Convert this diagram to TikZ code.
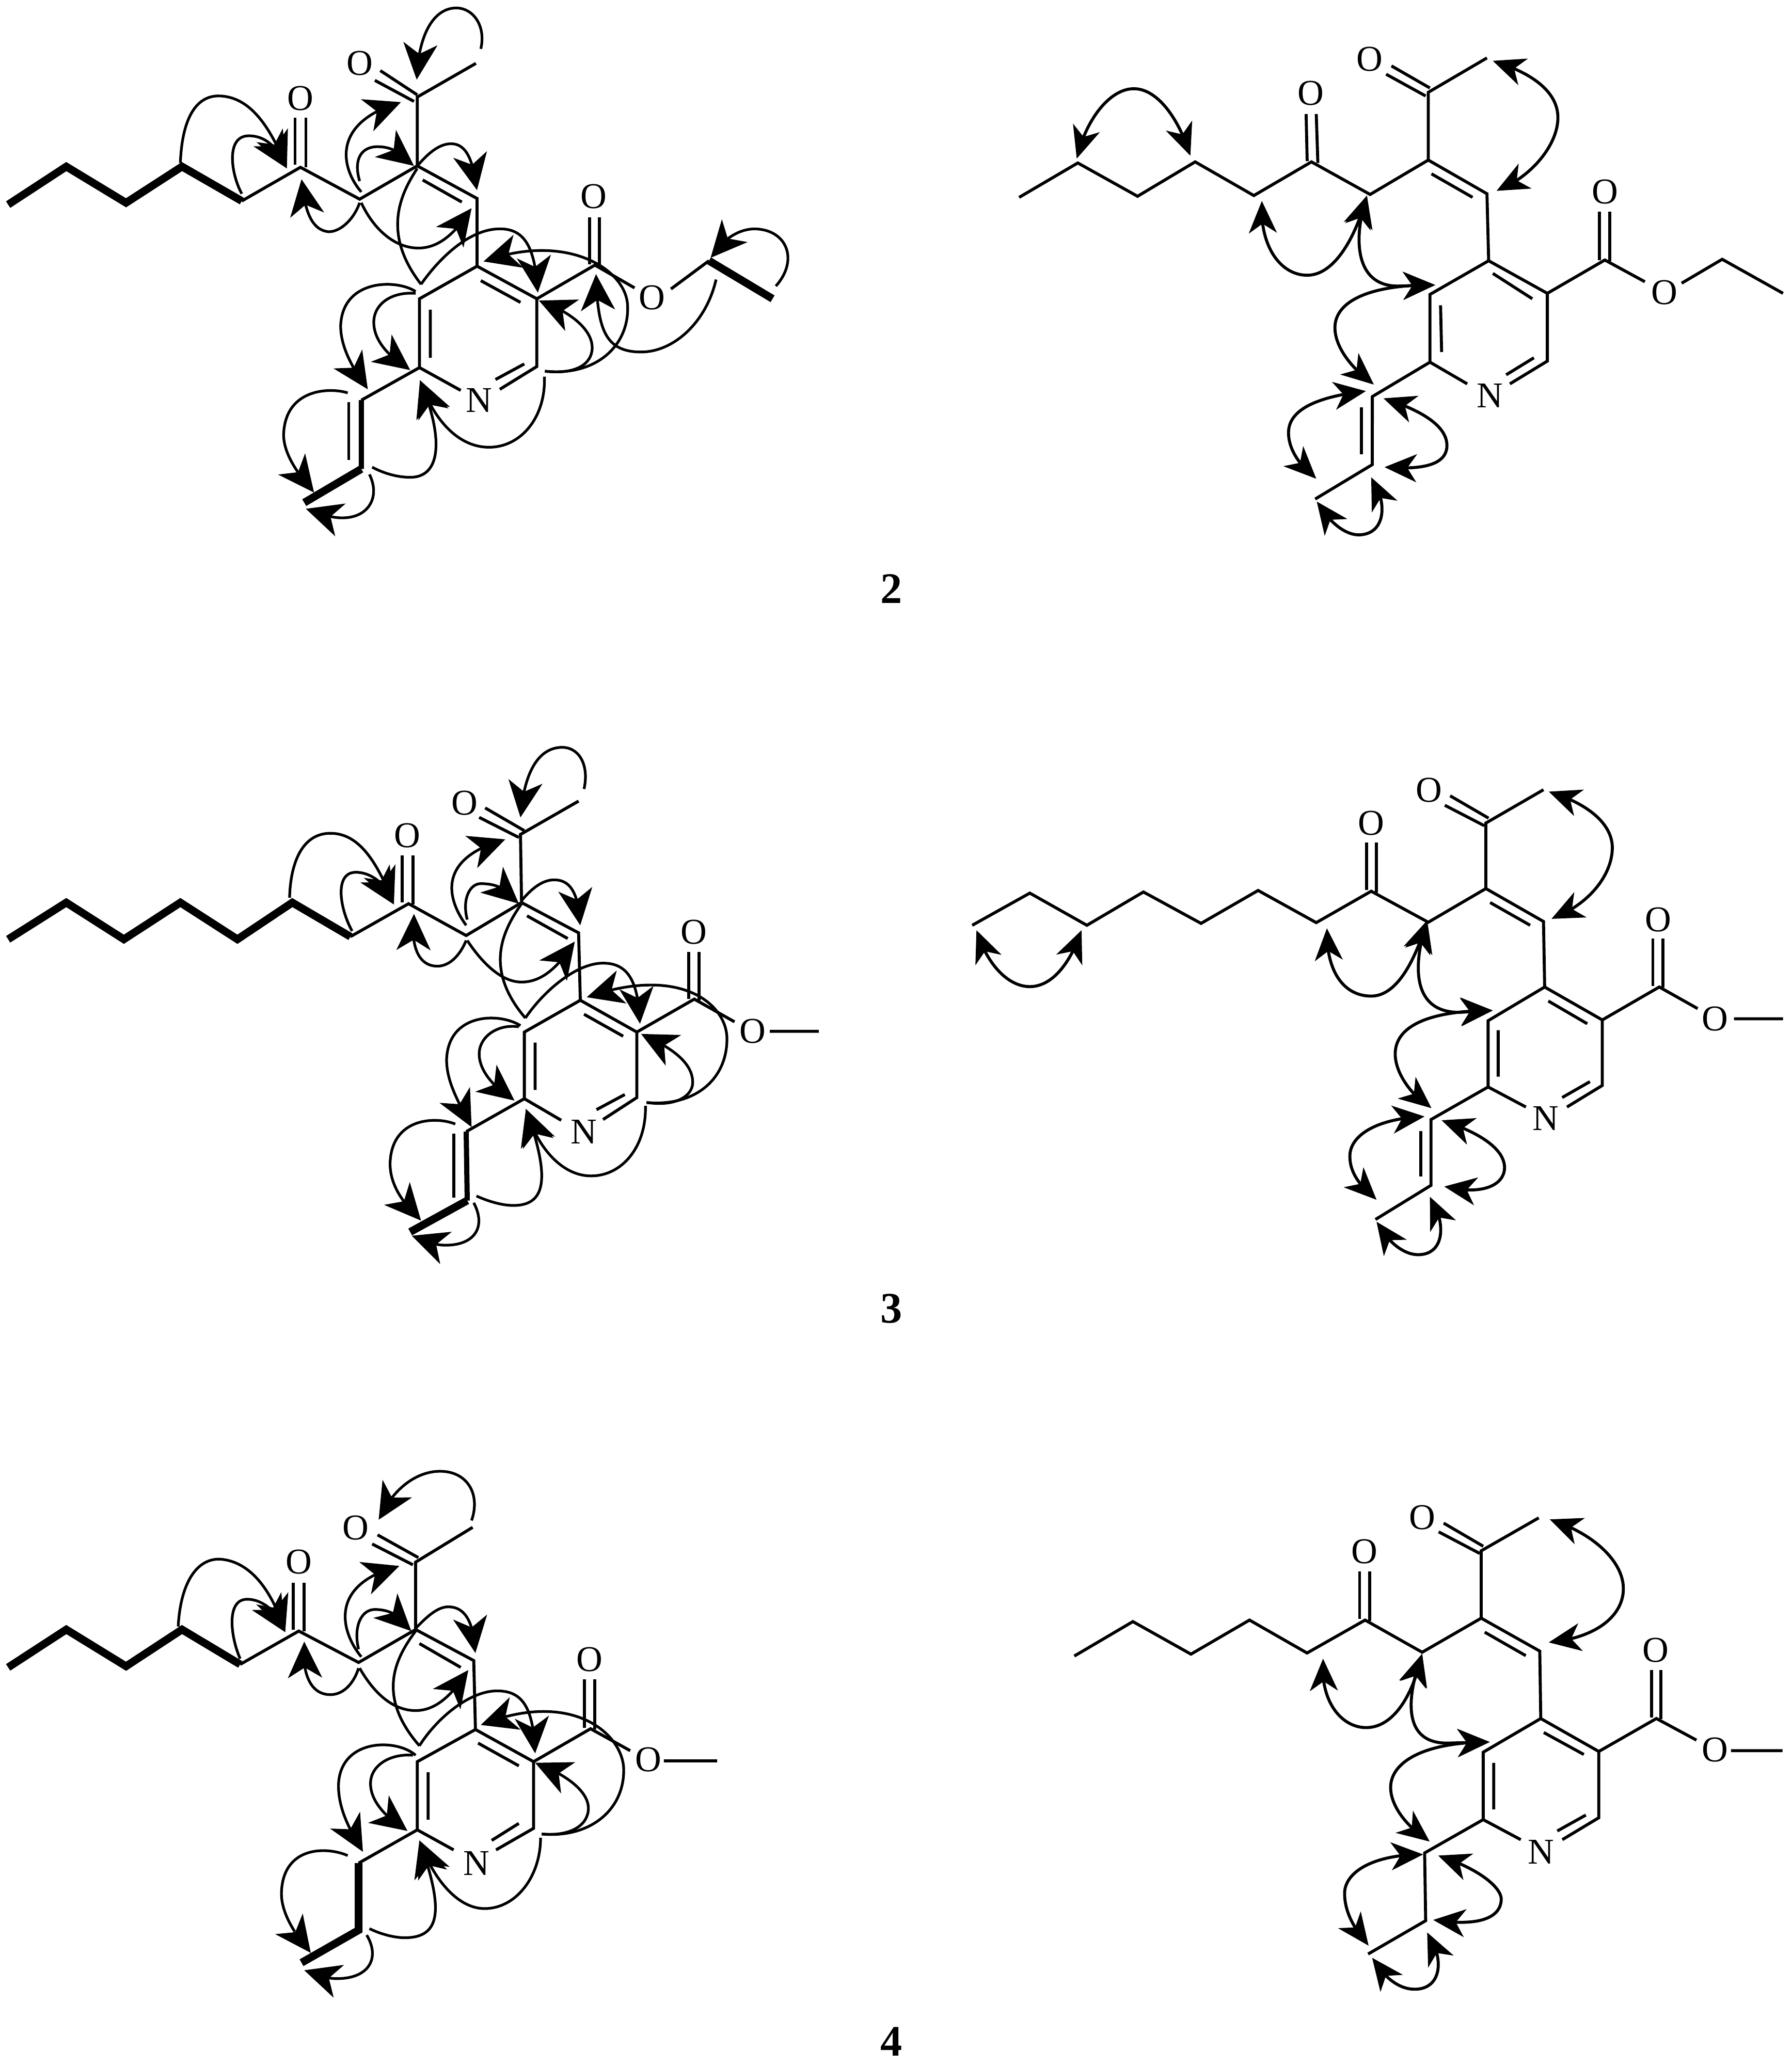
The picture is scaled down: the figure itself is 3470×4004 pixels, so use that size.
\documentclass[tikz,border=0pt]{standalone}
\usepackage{fontspec}
\setmainfont{Liberation Serif}
\usetikzlibrary{arrows.meta,bending}

\tikzset{
  bond/.style={line width=0.058cm,line join=miter},
  boldbond/.style={line width=0.15cm,line join=miter},
  hmbc/.style={line width=0.052cm,-{Stealth[length=7mm,width=6.6mm,inset=2mm]}},
  cosy/.style={line width=0.058cm,{Stealth[length=6.2mm,width=5.4mm,inset=1.8mm]}-{Stealth[length=6.2mm,width=5.4mm,inset=1.8mm]}},
  atomlabel/.style={font=\fontsize{20}{24}\selectfont,inner sep=0pt},
  numlabel/.style={font=\fontsize{24}{28}\selectfont\bfseries,inner sep=0pt}
}

\begin{document}
\begin{tikzpicture}[x=0.01cm,y=-0.01cm]
  \useasboundingbox (0,0) rectangle (3470,4004);

  % compound 2, left
  \begin{scope}[shift={(0,0)},xscale=1.0523,yscale=0.7015]
    \coordinate (C4) at (878,735); \coordinate (C3) at (988,825); \coordinate (C2) at (988,1012);
    \coordinate (C6) at (772,1015); \coordinate (C5) at (772,825); \coordinate (Cv) at (665,1105);
    \node[atomlabel] (Nr) at (882,1105) {N};
    \node[atomlabel] (Oa) at (553,272) {O};
    \node[atomlabel] (Ob) at (662,175) {O};
    \node[atomlabel] (Oc) at (1093,542) {O};
    \node[atomlabel] (Od) at (1200,822) {O};
    \draw[boldbond] (15,565) -- (122,460) -- (232,560) -- (335,460) -- (445,555);
    \draw[bond] (445,555) -- (553,462) -- (662,550) -- (768,458) -- (878,548) -- (C4);
    \draw[bond] (543,455) -- (543,325) (563,462) -- (563,325);
    \draw[bond] (768,458) -- (768,268) -- (876,175);
    \draw[bond] (768,262) -- (700,195) (762,280) -- (690,222);
    \draw[bond] (778,497) -- (850,558);
    % ring
    \draw[bond] (C4) -- (C5) -- (C6) -- (848,1078) (920,1075) -- (C2) -- (C3) -- (C4);
    \draw[bond] (792,855) -- (792,988) (912,1048) -- (965,1005) (885,775) -- (958,835);
    % ester
    \draw[bond] (C3) -- (1095,732) -- (1168,795) (1235,798) -- (1305,720);
    \draw[boldbond] (1305,720) -- (1422,825);
    \draw[bond] (1085,730) -- (1085,600) (1103,735) -- (1103,600);
    % side chain
    \draw[bond] (C6) -- (Cv);
    \draw[boldbond,line width=0.1cm] (Cv) -- (665,1295);
    \draw[boldbond] (665,1295) -- (560,1388);
    \draw[bond] (642,1110) -- (642,1270);
    % correlations
    \draw[hmbc] (332,450) .. controls (335,330) and (360,262) .. (405,265) .. controls (450,268) and (490,320) .. (528,465);
    \draw[hmbc] (445,535) .. controls (425,480) and (415,375) .. (458,375) .. controls (485,375) and (510,400) .. (528,465);
    \draw[hmbc] (662,560) .. controls (650,610) and (625,640) .. (605,640) .. controls (570,635) and (560,570) .. (555,495);
    \draw[hmbc] (665,530) .. controls (630,470) and (605,340) .. (738,282);
    \draw[hmbc] (662,500) .. controls (650,440) and (665,405) .. (695,405) .. controls (725,405) and (745,430) .. (762,458);
    \draw[hmbc] (770,455) .. controls (790,420) and (810,397) .. (830,397) .. controls (855,397) and (870,430) .. (878,525);
    \draw[hmbc] (665,560) .. controls (690,640) and (730,685) .. (770,685) .. controls (810,685) and (840,640) .. (868,575);
    \draw[bond,line width=0.052cm] (768,465) .. controls (740,530) and (700,640) .. (775,785);
    \draw[hmbc] (775,785) .. controls (810,710) and (865,632) .. (920,632) .. controls (965,632) and (985,680) .. (990,808);
    \draw[hmbc] (1003,1025) .. controls (1100,1040) and (1160,950) .. (1155,840) .. controls (1150,740) and (1040,640) .. (890,722);
    \draw[hmbc] (1003,1025) .. controls (1060,1035) and (1090,1005) .. (1090,960) .. controls (1090,910) and (1050,860) .. (992,830);
    \draw[hmbc] (1318,772) .. controls (1300,890) and (1240,972) .. (1180,972) .. controls (1110,972) and (1100,900) .. (1097,757);
    \draw[hmbc] (1428,790) .. controls (1470,720) and (1450,635) .. (1390,632) .. controls (1360,632) and (1330,660) .. (1308,712);
    \draw[hmbc] (885,135) .. controls (895,70) and (870,22) .. (840,22) .. controls (800,22) and (770,90) .. (767,220);
    \draw[hmbc] (765,805) .. controls (730,770) and (630,770) .. (627,900) .. controls (627,960) and (650,1020) .. (677,1075);
    \draw[hmbc] (765,810) .. controls (720,805) and (688,840) .. (688,890) .. controls (688,940) and (715,985) .. (755,1022);
    \draw[hmbc] (640,1085) .. controls (610,1070) and (525,1070) .. (522,1200) .. controls (522,1260) and (555,1320) .. (578,1360);
    \draw[hmbc] (1002,1040) .. controls (1005,1150) and (960,1235) .. (900,1235) .. controls (840,1235) and (795,1150) .. (773,1050);
    \draw[hmbc] (685,1290) .. controls (710,1310) and (735,1318) .. (755,1318) .. controls (815,1318) and (815,1200) .. (773,1050);
    \draw[hmbc] (680,1310) .. controls (700,1370) and (680,1430) .. (630,1430) .. controls (610,1430) and (590,1420) .. (563,1405);
  \end{scope}

  % compound 2, right
  \begin{scope}[shift={(1850,0)},xscale=1.0332,yscale=0.7015]
    \coordinate (C4) at (1000,720); \coordinate (C3) at (1110,810); \coordinate (C2) at (1110,997);
    \coordinate (C6) at (890,1000); \coordinate (C5) at (890,813); \coordinate (Cv) at (782,1095);
    \node[atomlabel] (Nr) at (1003,1092) {N};
    \node[atomlabel] (Oa) at (667,258) {O};
    \node[atomlabel] (Ob) at (777,163) {O};
    \node[atomlabel] (Oc) at (1218,530) {O};
    \node[atomlabel] (Od) at (1330,808) {O};
    \draw[bond] (120,545) -- (230,450) -- (342,542) -- (450,447) -- (560,540) -- (668,447) -- (778,537) -- (887,442) -- (997,535) -- (C4);
    \draw[bond] (658,315) -- (660,445) (677,315) -- (680,450);
    \draw[bond] (887,442) -- (887,255) -- (997,160);
    \draw[bond] (890,243) -- (818,182) (882,265) -- (808,205);
    \draw[bond] (893,480) -- (970,545);
    % ring
    \draw[bond] (C4) -- (C5) -- (C6) -- (960,1060) (1040,1060) -- (C2) -- (C3) -- (C4);
    \draw[bond] (910,843) -- (912,972) (1033,1035) -- (1085,988) (1008,755) -- (1082,825);
    % ester
    \draw[bond] (C3) -- (1218,718) -- (1293,778) (1362,782) -- (1438,716) -- (1552,810);
    \draw[bond] (1208,718) -- (1208,585) (1227,722) -- (1227,585);
    % side chain
    \draw[bond] (C6) -- (Cv) -- (782,1283) -- (675,1378);
    \draw[bond] (762,1125) -- (762,1255);
    % correlations
    \draw[cosy] (228,438) .. controls (245,330) and (290,245) .. (335,245) .. controls (380,245) and (420,330) .. (441,430);
    \draw[cosy] (1008,168) .. controls (1090,205) and (1130,260) .. (1130,325) .. controls (1130,400) and (1080,490) .. (1015,527);
    \draw[cosy] (575,555) .. controls (570,680) and (610,760) .. (660,760) .. controls (710,760) and (750,660) .. (772,540);
    \draw[cosy] (772,540) .. controls (745,660) and (750,790) .. (830,790) -- (900,787);
    \draw[cosy] (900,787) .. controls (780,785) and (712,830) .. (712,905) .. controls (712,960) and (745,1020) .. (785,1062);
    \draw[cosy] (770,1080) .. controls (680,1095) and (625,1130) .. (625,1195) .. controls (625,1240) and (645,1285) .. (677,1322);
    \draw[cosy] (803,1100) .. controls (880,1135) and (922,1180) .. (922,1230) .. controls (922,1275) and (890,1300) .. (805,1290);
    \draw[cosy] (780,1318) .. controls (810,1380) and (810,1475) .. (757,1477) .. controls (730,1477) and (700,1440) .. (678,1385);
  \end{scope}

  % compound 3, left
  \begin{scope}[shift={(0,1400)},xscale=1.0523,yscale=0.7334]
    \coordinate (C4) at (1068,733); \coordinate (C3) at (1172,817); \coordinate (C2) at (1172,990);
    \coordinate (C6) at (965,993); \coordinate (C5) at (965,817); \coordinate (Cv) at (858,1080);
    \node[atomlabel] (Nr) at (1075,1080) {N};
    \node[atomlabel] (Oa) at (750,298) {O};
    \node[atomlabel] (Ob) at (855,212) {O};
    \node[atomlabel] (Oc) at (1277,553) {O};
    \node[atomlabel] (Od) at (1385,815) {O};
    \draw[boldbond] (15,572) -- (122,475) -- (228,572) -- (332,475) -- (437,572) -- (538,475) -- (645,565);
    \draw[bond] (645,565) -- (752,478) -- (858,562) -- (960,475) -- (1065,555) -- (C4);
    \draw[bond] (740,350) -- (740,475) (760,350) -- (760,480);
    \draw[bond] (960,475) -- (958,295) -- (1065,207);
    \draw[bond] (965,285) -- (893,225) (955,303) -- (882,250);
    \draw[bond] (970,510) -- (1045,570);
    % ring
    \draw[bond] (C4) -- (C5) -- (C6) -- (1033,1050) (1110,1048) -- (C2) -- (C3) -- (C4);
    \draw[bond] (985,845) -- (985,970) (1098,1022) -- (1150,982) (1075,770) -- (1147,828);
    % ester
    \draw[bond] (C3) -- (1278,730) -- (1352,790) (1417,815) -- (1507,815);
    \draw[bond] (1268,730) -- (1268,605) (1287,733) -- (1287,605);
    % side chain
    \draw[bond] (C6) -- (Cv);
    \draw[boldbond,line width=0.1cm] (Cv) -- (860,1262);
    \draw[boldbond] (860,1262) -- (755,1345);
    \draw[bond] (835,1085) -- (835,1255);
    % correlations
    \draw[hmbc] (533,462) .. controls (535,360) and (560,292) .. (608,292) .. controls (655,292) and (690,350) .. (725,480);
    \draw[hmbc] (648,550) .. controls (625,490) and (615,395) .. (655,395) .. controls (680,395) and (710,420) .. (725,480);
    \draw[hmbc] (858,575) .. controls (845,620) and (825,643) .. (805,643) .. controls (770,643) and (755,590) .. (762,505);
    \draw[hmbc] (858,535) .. controls (825,470) and (800,360) .. (930,308);
    \draw[hmbc] (860,520) .. controls (850,465) and (865,425) .. (885,425) .. controls (915,425) and (935,440) .. (955,478);
    \draw[hmbc] (960,470) .. controls (980,435) and (1000,415) .. (1020,415) .. controls (1050,415) and (1065,450) .. (1068,535);
    \draw[hmbc] (860,575) .. controls (890,640) and (925,685) .. (960,685) .. controls (1000,685) and (1030,640) .. (1058,578);
    \draw[bond,line width=0.052cm] (960,478) .. controls (925,550) and (890,650) .. (967,780);
    \draw[hmbc] (967,780) .. controls (1000,710) and (1060,635) .. (1110,635) .. controls (1155,635) and (1175,680) .. (1178,795);
    \draw[hmbc] (1190,1003) .. controls (1280,1015) and (1340,940) .. (1338,830) .. controls (1335,740) and (1250,640) .. (1080,725);
    \draw[hmbc] (1190,1003) .. controls (1245,1015) and (1275,985) .. (1275,950) .. controls (1275,900) and (1240,860) .. (1180,822);
    \draw[hmbc] (958,800) .. controls (920,765) and (825,765) .. (822,890) .. controls (822,950) and (845,1005) .. (868,1068);
    \draw[hmbc] (955,803) .. controls (915,795) and (882,830) .. (882,875) .. controls (882,920) and (910,965) .. (947,998);
    \draw[hmbc] (838,1060) .. controls (805,1040) and (720,1040) .. (718,1165) .. controls (718,1230) and (750,1280) .. (775,1315);
    \draw[hmbc] (1188,1012) .. controls (1190,1120) and (1145,1197) .. (1088,1197) .. controls (1030,1197) and (985,1110) .. (968,1020);
    \draw[hmbc] (877,1250) .. controls (900,1265) and (925,1275) .. (945,1275) .. controls (1010,1275) and (1010,1190) .. (968,1020);
    \draw[hmbc] (872,1268) .. controls (895,1330) and (875,1380) .. (820,1380) .. controls (800,1380) and (785,1370) .. (758,1355);
    \draw[hmbc] (1075,175) .. controls (1085,110) and (1065,65) .. (1035,65) .. controls (995,65) and (965,120) .. (958,250);
  \end{scope}

  % compound 3, right
  \begin{scope}[shift={(1850,1400)},xscale=1.0332,yscale=0.7334]
    \coordinate (C4) at (1105,698); \coordinate (C3) at (1213,785); \coordinate (C2) at (1213,958);
    \coordinate (C6) at (999,962); \coordinate (C5) at (999,787); \coordinate (Cv) at (892,1048);
    \node[atomlabel] (Nr) at (1107,1045) {N};
    \node[atomlabel] (Oa) at (780,265) {O};
    \node[atomlabel] (Ob) at (888,178) {O};
    \node[atomlabel] (Oc) at (1318,520) {O};
    \node[atomlabel] (Od) at (1425,782) {O};
    \draw[bond] (32,535) -- (140,450) -- (247,535) -- (353,447) -- (461,530) -- (568,443) -- (677,528) -- (780,445) -- (887,527) -- (995,438) -- (1103,525) -- (C4);
    \draw[bond] (771,317) -- (771,442) (790,317) -- (790,448);
    \draw[bond] (995,438) -- (995,265) -- (1103,177);
    \draw[bond] (1000,252) -- (928,193) (992,272) -- (918,218);
    \draw[bond] (1003,475) -- (1078,535);
    % ring
    \draw[bond] (C4) -- (C5) -- (C6) -- (1070,1015) (1147,1015) -- (C2) -- (C3) -- (C4);
    \draw[bond] (1018,812) -- (1018,935) (1138,990) -- (1190,948) (1112,735) -- (1185,795);
    % ester
    \draw[bond] (C3) -- (1320,698) -- (1392,755) (1460,782) -- (1552,782);
    \draw[bond] (1308,695) -- (1308,570) (1327,700) -- (1327,570);
    % side chain
    \draw[bond] (C6) -- (Cv) -- (892,1222) -- (788,1312);
    \draw[bond] (873,1078) -- (873,1198);
    % correlations
    \draw[cosy] (40,548) .. controls (60,640) and (100,697) .. (140,697) .. controls (180,697) and (215,640) .. (237,548);
    \draw[cosy] (1113,182) .. controls (1190,215) and (1232,270) .. (1232,330) .. controls (1232,400) and (1190,480) .. (1118,518);
    \draw[cosy] (697,543) .. controls (695,660) and (730,722) .. (780,722) .. controls (825,722) and (860,640) .. (885,522);
    \draw[cosy] (885,522) .. controls (855,650) and (860,765) .. (945,765) -- (1008,760);
    \draw[cosy] (1008,760) .. controls (890,760) and (825,800) .. (825,875) .. controls (825,925) and (855,985) .. (893,1018);
    \draw[cosy] (880,1040) .. controls (790,1045) and (740,1090) .. (740,1145) .. controls (740,1190) and (760,1225) .. (790,1260);
    \draw[cosy] (912,1050) .. controls (990,1085) and (1030,1130) .. (1030,1175) .. controls (1030,1220) and (990,1250) .. (917,1225);
    \draw[cosy] (890,1252) .. controls (920,1315) and (920,1405) .. (868,1405) .. controls (840,1405) and (810,1370) .. (790,1318);
  \end{scope}

  % compound 4, left
  \begin{scope}[shift={(0,2850)},xscale=1.0523,yscale=0.7334]
    \coordinate (C4) at (875,682); \coordinate (C3) at (982,767); \coordinate (C2) at (982,943);
    \coordinate (C6) at (768,947); \coordinate (C5) at (768,767); \coordinate (Cv) at (660,1035);
    \node[atomlabel] (Nr) at (877,1035) {N};
    \node[atomlabel] (Oa) at (550,240) {O};
    \node[atomlabel] (Ob) at (655,150) {O};
    \node[atomlabel] (Oc) at (1085,497) {O};
    \node[atomlabel] (Od) at (1193,762) {O};
    \draw[boldbond] (15,518) -- (122,418) -- (232,515) -- (335,418) -- (442,510);
    \draw[bond] (442,510) -- (550,422) -- (660,505) -- (765,418) -- (872,500) -- (C4);
    \draw[bond] (540,295) -- (540,418) (560,295) -- (560,422);
    \draw[bond] (765,418) -- (765,240) -- (870,148);
    \draw[bond] (770,228) -- (695,168) (760,247) -- (685,192);
    \draw[bond] (772,455) -- (848,518);
    % ring
    \draw[bond] (C4) -- (C5) -- (C6) -- (835,1000) (913,1000) -- (C2) -- (C3) -- (C4);
    \draw[bond] (788,795) -- (788,920) (905,975) -- (955,930) (880,718) -- (955,778);
    % ester
    \draw[bond] (C3) -- (1087,680) -- (1160,738) (1222,765) -- (1320,765);
    \draw[bond] (1076,678) -- (1076,550) (1095,682) -- (1095,550);
    % side chain
    \draw[bond] (C6) -- (Cv);
    \draw[boldbond] (Cv) -- (660,1212) -- (555,1298);
    % correlations
    \draw[hmbc] (328,410) .. controls (332,300) and (360,232) .. (403,232) .. controls (450,235) and (495,290) .. (525,425);
    \draw[hmbc] (442,495) .. controls (425,440) and (415,338) .. (455,338) .. controls (480,338) and (510,365) .. (525,425);
    \draw[hmbc] (660,520) .. controls (650,565) and (630,590) .. (608,590) .. controls (570,590) and (555,530) .. (560,450);
    \draw[hmbc] (665,490) .. controls (630,430) and (600,300) .. (735,250);
    \draw[hmbc] (660,470) .. controls (650,410) and (665,365) .. (690,365) .. controls (720,365) and (740,385) .. (757,422);
    \draw[hmbc] (765,415) .. controls (785,385) and (805,358) .. (825,358) .. controls (855,358) and (872,395) .. (875,480);
    \draw[hmbc] (662,520) .. controls (690,590) and (725,632) .. (765,632) .. controls (805,632) and (835,585) .. (862,525);
    \draw[bond,line width=0.052cm] (765,422) .. controls (730,490) and (690,590) .. (772,725);
    \draw[hmbc] (772,725) .. controls (805,650) and (865,580) .. (915,580) .. controls (960,580) and (982,620) .. (985,745);
    \draw[hmbc] (997,958) .. controls (1085,970) and (1150,895) .. (1148,785) .. controls (1145,690) and (1050,575) .. (885,670);
    \draw[hmbc] (997,958) .. controls (1050,965) and (1083,935) .. (1083,890) .. controls (1083,850) and (1050,805) .. (985,770);
    \draw[hmbc] (765,750) .. controls (730,705) and (625,705) .. (623,830) .. controls (623,895) and (645,950) .. (668,1005);
    \draw[hmbc] (760,750) .. controls (720,745) and (682,775) .. (682,825) .. controls (682,875) and (715,920) .. (750,950);
    \draw[hmbc] (640,1015) .. controls (600,990) and (520,990) .. (518,1115) .. controls (518,1175) and (550,1235) .. (572,1272);
    \draw[hmbc] (995,968) .. controls (995,1070) and (950,1155) .. (892,1155) .. controls (840,1155) and (795,1070) .. (772,975);
    \draw[hmbc] (680,1208) .. controls (700,1222) and (725,1232) .. (745,1232) .. controls (815,1232) and (815,1150) .. (772,975);
    \draw[hmbc] (675,1225) .. controls (700,1285) and (680,1340) .. (620,1340) .. controls (600,1340) and (585,1330) .. (560,1318);
    \draw[hmbc] (868,130) .. controls (885,60) and (860,0) .. (810,0) .. controls (770,0) and (725,40) .. (697,128);
  \end{scope}

  % compound 4, right
  \begin{scope}[shift={(1950,2850)},xscale=0.9694,yscale=0.7334]
    \coordinate (C4) at (1067,653); \coordinate (C3) at (1183,740); \coordinate (C2) at (1183,915);
    \coordinate (C6) at (952,920); \coordinate (C5) at (952,742); \coordinate (Cv) at (835,1008);
    \node[atomlabel] (Nr) at (1067,1005) {N};
    \node[atomlabel] (Oa) at (715,212) {O};
    \node[atomlabel] (Ob) at (830,122) {O};
    \node[atomlabel] (Oc) at (1297,472) {O};
    \node[atomlabel] (Od) at (1415,735) {O};
    \draw[bond] (135,488) -- (252,397) -- (368,483) -- (485,393) -- (600,480) -- (716,393) -- (830,478) -- (948,388) -- (1065,475) -- (C4);
    \draw[bond] (705,265) -- (705,390) (725,265) -- (725,395);
    \draw[bond] (948,388) -- (948,210) -- (1063,123);
    \draw[bond] (952,198) -- (873,137) (945,217) -- (863,160);
    \draw[bond] (955,425) -- (1037,487);
    % ring
    \draw[bond] (C4) -- (C5) -- (C6) -- (1027,973) (1110,973) -- (C2) -- (C3) -- (C4);
    \draw[bond] (973,770) -- (973,893) (1100,950) -- (1157,908) (1073,690) -- (1153,748);
    % ester
    \draw[bond] (C3) -- (1298,653) -- (1378,710) (1447,738) -- (1550,738);
    \draw[bond] (1288,650) -- (1288,525) (1307,655) -- (1307,525);
    % side chain
    \draw[bond] (C6) -- (Cv) -- (837,1187) -- (722,1275);
    % correlations
    \draw[cosy] (1085,127) .. controls (1175,165) and (1232,240) .. (1232,310) .. controls (1232,380) and (1180,440) .. (1083,452);
    \draw[cosy] (632,495) .. controls (625,610) and (670,677) .. (718,677) .. controls (770,677) and (810,600) .. (830,482);
    \draw[cosy] (830,482) .. controls (795,610) and (795,718) .. (880,718) -- (965,715);
    \draw[cosy] (965,715) .. controls (830,715) and (767,770) .. (767,835) .. controls (767,885) and (800,940) .. (845,978);
    \draw[cosy] (832,1012) .. controls (730,1012) and (675,1060) .. (675,1115) .. controls (675,1165) and (695,1210) .. (723,1253);
    \draw[cosy] (862,1015) .. controls (945,1050) and (988,1100) .. (988,1130) .. controls (988,1175) and (950,1205) .. (852,1185);
    \draw[cosy] (840,1218) .. controls (875,1285) and (870,1368) .. (815,1368) .. controls (785,1368) and (755,1340) .. (730,1285);
  \end{scope}

  \node[numlabel] (nTwo) at (1727,1141) {2};
  \node[numlabel] (nThree) at (1727,2535) {3};
  \node[numlabel] (nFour) at (1727,3955) {4};
\end{tikzpicture}
\end{document}
